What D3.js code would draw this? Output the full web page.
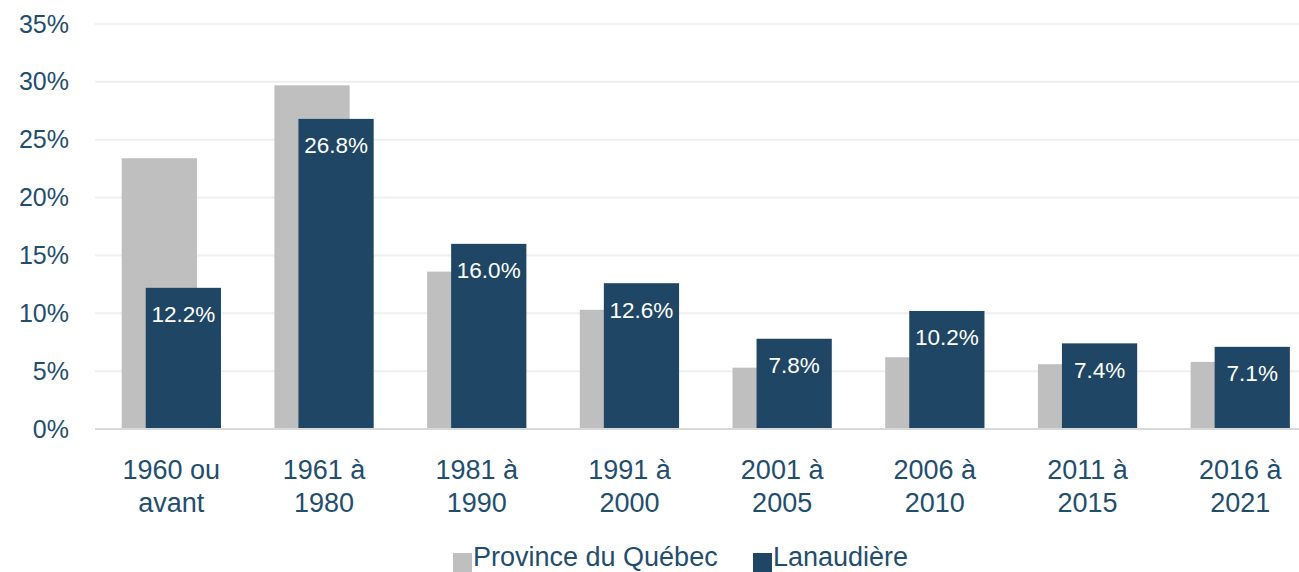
<!DOCTYPE html>
<html>
<head>
<meta charset="utf-8">
<script src="https://cdn.jsdelivr.net/npm/d3@7"></script>
<style>
  body { margin: 0; background: #fff; }
  svg { display: block; font-family: "Liberation Sans", Arial, sans-serif; }
</style>
</head>
<body>
<svg></svg>
<script>
var categories = [["1960 ou", "avant"], ["1961 à", "1980"], ["1981 à", "1990"], ["1991 à", "2000"],
                  ["2001 à", "2005"], ["2006 à", "2010"], ["2011 à", "2015"], ["2016 à", "2021"]];
var quebec = [0.234, 0.297, 0.136, 0.103, 0.053, 0.062, 0.056, 0.058];
var lanaudiere = [0.122, 0.268, 0.160, 0.126, 0.078, 0.102, 0.074, 0.071];
var yTicks = [0, 0.05, 0.10, 0.15, 0.20, 0.25, 0.30, 0.35];
var seriesNames = ["Province du Québec", "Lanaudière"];

var width = 1299, height = 572;
var textColor = "#1f4e6e", grey = "#bfbfbf", blue = "#1f4765";

var svg = d3.select("svg").attr("width", width).attr("height", height);

var keys = categories.map(function(d){ return d.join(" "); });
var x = d3.scaleBand().domain(keys).range([95, 1316.6]).paddingInner(0.35).paddingOuter(0.175);
var y = d3.scaleLinear().domain([0, 0.35]).range([429, 24]);
var barW = x.bandwidth() * 0.758;
var shift = x.bandwidth() - barW;

// gridlines
svg.append("g").selectAll("line")
    .data(yTicks.slice(1))
    .enter().append("line")
      .attr("x1", 95).attr("x2", width)
      .attr("y1", function(d){ return y(d); })
      .attr("y2", function(d){ return y(d); })
      .attr("stroke", "#efefef").attr("stroke-width", 2);

// y axis
var yAxis = svg.append("g")
    .attr("transform", "translate(69,0)")
    .call(d3.axisLeft(y).tickValues(yTicks).tickFormat(d3.format(".0%")).tickSize(0).tickPadding(0));
yAxis.select(".domain").remove();
yAxis.selectAll("text").attr("fill", textColor).attr("font-size", 25).attr("font-family", "Liberation Sans, Arial, sans-serif");

// bars
svg.append("g").selectAll("rect")
    .data(quebec)
    .enter().append("rect")
      .attr("x", function(d, i){ return x(keys[i]); })
      .attr("y", function(d){ return y(d); })
      .attr("width", barW)
      .attr("height", function(d){ return y(0) - y(d); })
      .attr("fill", grey);

svg.append("g").selectAll("rect")
    .data(lanaudiere)
    .enter().append("rect")
      .attr("x", function(d, i){ return x(keys[i]) + shift; })
      .attr("y", function(d){ return y(d); })
      .attr("width", barW)
      .attr("height", function(d){ return y(0) - y(d); })
      .attr("fill", blue);

svg.append("g").selectAll("text")
    .data(lanaudiere)
    .enter().append("text")
      .attr("x", function(d, i){ return x(keys[i]) + shift + barW / 2; })
      .attr("y", function(d){ return y(d) + 27; })
      .attr("text-anchor", "middle")
      .attr("dominant-baseline", "central")
      .attr("fill", "#fff")
      .attr("font-size", 22.5)
      .text(function(d){ return d3.format(".1%")(d); });

// baseline
svg.append("line")
    .attr("x1", 95).attr("x2", width)
    .attr("y1", y(0)).attr("y2", y(0))
    .attr("stroke", "#d9d9d9").attr("stroke-width", 2);

// category labels
var cat = svg.append("g").selectAll("text")
    .data(categories)
    .enter().append("text")
      .attr("x", function(d, i){ return x(keys[i]) + x.bandwidth() / 2; })
      .attr("text-anchor", "middle")
      .attr("fill", textColor)
      .attr("font-size", 27);
cat.selectAll("tspan")
    .data(function(d){ return d; })
    .enter().append("tspan")
      .attr("x", function(){ return d3.select(this.parentNode).attr("x"); })
      .attr("y", function(d, i){ return 470 + i * 33; })
      .attr("dominant-baseline", "central")
      .text(function(d){ return d; });

// legend
var legendX = [453, 753];
var legend = svg.append("g").selectAll("g")
    .data(seriesNames)
    .enter().append("g")
      .attr("transform", function(d, i){ return "translate(" + legendX[i] + ",0)"; });
legend.append("rect")
    .attr("x", 0).attr("y", 553).attr("width", 19).attr("height", 19)
    .attr("fill", function(d, i){ return i ? blue : grey; });
legend.append("text")
    .attr("x", 20).attr("y", 566)
    .attr("fill", textColor)
    .attr("font-size", 27)
    .text(function(d){ return d; });
</script>
</body>
</html>
